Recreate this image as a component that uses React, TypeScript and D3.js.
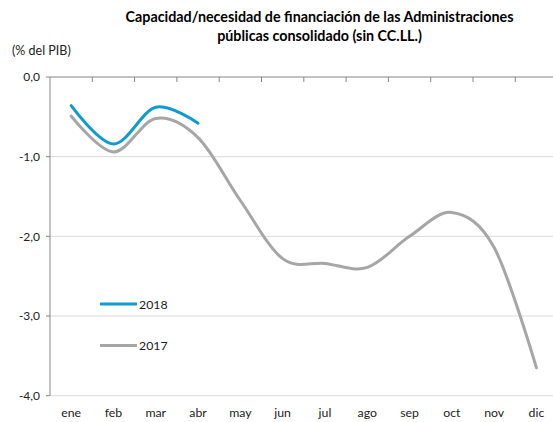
import React from "react";
import * as d3 from "d3";

const months = ["ene", "feb", "mar", "abr", "may", "jun", "jul", "ago", "sep", "oct", "nov", "dic"];
const values2017 = [-0.49, -0.94, -0.52, -0.76, -1.55, -2.28, -2.34, -2.39, -2.0, -1.7, -2.14, -3.65];
const values2018 = [-0.36, -0.84, -0.38, -0.58];
const yTicks = [0, -1, -2, -3, -4];
const titleLines = [
  "Capacidad/necesidad de financiación de las Administraciones",
  "públicas consolidado (sin CC.LL.)",
];

const W = 553;
const H = 422;
const left = 50;
const right = 557.6;
const top = 77;
const bottom = 395.7;
const font = "Lato, 'Open Sans', sans-serif";

export default function App() {
  const x = d3.scaleBand<string>().domain(months).range([left, right]);
  const y = d3.scaleLinear().domain([-4, 0]).range([bottom, top]);
  const cx = (i: number) => (x(months[i]) as number) + x.bandwidth() / 2;
  const line = d3
    .line<number>()
    .x((_, i) => cx(i))
    .y((d) => y(d))
    .curve(d3.curveCardinal.tension(0));

  const fmt = (v: number) => v.toFixed(1).replace(".", ",");

  return (
    <svg width={W} height={H} style={{ position: "absolute", left: 0, top: 0, background: "#fff" }}>
      {titleLines.map((t, i) => (
        <text
          key={i}
          x={319.5}
          y={21.5 + i * 19.5}
          textAnchor="middle"
          fontFamily={font}
          fontWeight="bold"
          fontSize={14.3}
          fill="#000"
        >
          {t}
        </text>
      ))}
      <text x={12} y={55} fontFamily={font} fontSize={12.5} fill="#222">
        (% del PIB)
      </text>
      {yTicks.map((t) => (
        <g key={t}>
          {t !== 0 && (
            <line x1={left} x2={right} y1={y(t)} y2={y(t)} stroke="#d9d9d9" strokeWidth={1} />
          )}
          <line x1={left - 4} x2={left} y1={y(t)} y2={y(t)} stroke="#868686" />
          <text
            x={40}
            y={y(t)}
            dy="0.35em"
            textAnchor="end"
            fontFamily={font}
            fontSize={12}
            fill="#222"
          >
            {fmt(t)}
          </text>
        </g>
      ))}
      <line x1={left} x2={left} y1={top} y2={bottom} stroke="#868686" />
      <line x1={left} x2={right} y1={top} y2={top} stroke="#868686" />
      {months.map((m, i) => (
        <g key={m}>
          <line
            x1={(x(m) as number) + x.bandwidth()}
            x2={(x(m) as number) + x.bandwidth()}
            y1={top}
            y2={top + 5}
            stroke="#868686"
          />
          <text
            x={cx(i)}
            y={417}
            textAnchor="middle"
            fontFamily={font}
            fontSize={12.3}
            fill="#222"
          >
            {m}
          </text>
        </g>
      ))}
      <path d={line(values2017) || ""} fill="none" stroke="#a6a6a6" strokeWidth={3} strokeLinecap="round" />
      <path d={line(values2018) || ""} fill="none" stroke="#0e9bd0" strokeWidth={3} strokeLinecap="round" />
      <line x1={100} x2={137} y1={304} y2={304} stroke="#0e9bd0" strokeWidth={3} />
      <text x={139} y={308.5} fontFamily={font} fontSize={12.3} fill="#222">
        2018
      </text>
      <line x1={100} x2={137} y1={345.5} y2={345.5} stroke="#a6a6a6" strokeWidth={3} />
      <text x={139} y={350} fontFamily={font} fontSize={12.3} fill="#222">
        2017
      </text>
    </svg>
  );
}
